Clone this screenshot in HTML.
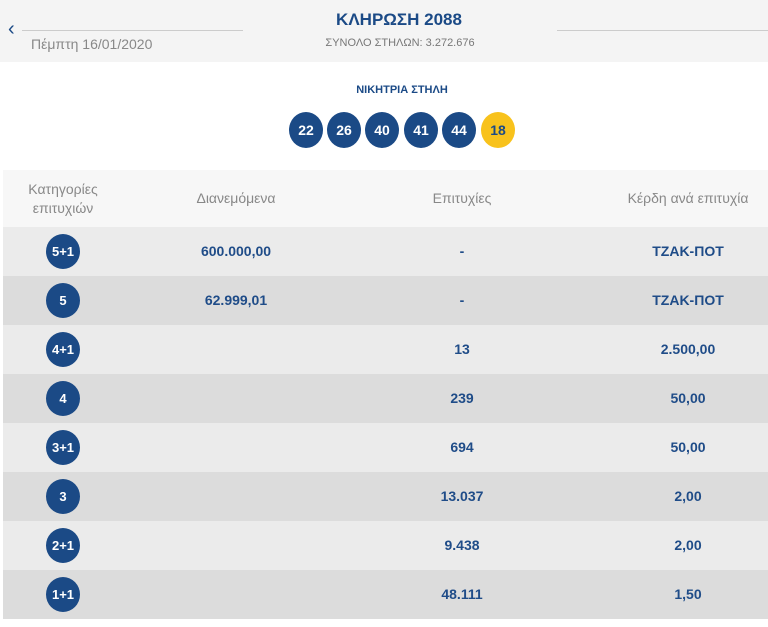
<!DOCTYPE html>
<html><head><meta charset="utf-8"><style>
body{margin:0;width:768px;height:627px;background:#fff;font-family:"Liberation Sans",sans-serif;position:relative;overflow:hidden}
.top{position:absolute;left:0;top:0;width:768px;height:62px;background:#f4f4f4}
.a{position:absolute;white-space:nowrap}
.c{transform:translateX(-50%)}
.ball{position:absolute;width:34px;height:36px;border-radius:50%;background:#1b4a86;color:#fff;font-weight:bold;font-size:14px;text-align:center;line-height:36px;top:112px}
.row{position:absolute;left:3px;width:765px;height:49px}
.cat{position:absolute;left:43px;top:7px;width:34px;height:35px;border-radius:50%;background:#1b4a86;color:#fff;font-weight:bold;font-size:13px;text-align:center;line-height:35px}
.v{position:absolute;top:16px;font-weight:bold;font-size:14px;color:#1f4c88;transform:translateX(-50%);white-space:nowrap}
.h{position:absolute;color:#888;font-size:14px;text-align:center;transform:translateX(-50%);white-space:nowrap}
</style></head><body>
<div class="top"></div>
<div class="a" style="left:8px;top:18px;color:#1b4a86;font-size:20px">‹</div>
<div class="a" style="left:22px;top:30px;width:221px;height:1px;background:#ccc"></div>
<div class="a" style="left:557px;top:30px;width:211px;height:1px;background:#ccc"></div>
<div class="a" style="left:31px;top:36px;color:#888;font-size:14px">Πέμπτη 16/01/2020</div>
<div class="a c" style="left:399px;top:10px;color:#1b4a86;font-weight:bold;font-size:17px">ΚΛΗΡΩΣΗ 2088</div>
<div class="a c" style="left:400px;top:37px;color:#777;font-size:11px">ΣΥΝΟΛΟ ΣΤΗΛΩΝ: 3.272.676</div>
<div class="a c" style="left:402px;top:84px;color:#1b4a86;font-weight:bold;font-size:11px">ΝΙΚΗΤΡΙΑ ΣΤΗΛΗ</div>
<div class="ball" style="left:289px">22</div>
<div class="ball" style="left:327px">26</div>
<div class="ball" style="left:365px">40</div>
<div class="ball" style="left:404px">41</div>
<div class="ball" style="left:442px">44</div>
<div class="ball" style="left:481px;background:#f8c21c;color:#1b4a86">18</div>
<div class="a" style="left:3px;top:170px;width:765px;height:57px;background:#f7f7f7"></div>
<div class="h" style="left:63px;top:180px;line-height:19px">Κατηγορίες<br>επιτυχιών</div>
<div class="h" style="left:236px;top:190px">Διανεμόμενα</div>
<div class="h" style="left:462px;top:190px">Επιτυχίες</div>
<div class="h" style="left:688px;top:190px">Κέρδη ανά επιτυχία</div>

<div class="row" style="top:227px;background:#ebebeb"><div class="cat">5+1</div><div class="v" style="left:233px">600.000,00</div><div class="v" style="left:459px">-</div><div class="v" style="left:685px">ΤΖΑΚ-ΠΟΤ</div></div>
<div class="row" style="top:276px;background:#dcdcdc"><div class="cat">5</div><div class="v" style="left:233px">62.999,01</div><div class="v" style="left:459px">-</div><div class="v" style="left:685px">ΤΖΑΚ-ΠΟΤ</div></div>
<div class="row" style="top:325px;background:#ebebeb"><div class="cat">4+1</div><div class="v" style="left:459px">13</div><div class="v" style="left:685px">2.500,00</div></div>
<div class="row" style="top:374px;background:#dcdcdc"><div class="cat">4</div><div class="v" style="left:459px">239</div><div class="v" style="left:685px">50,00</div></div>
<div class="row" style="top:423px;background:#ebebeb"><div class="cat">3+1</div><div class="v" style="left:459px">694</div><div class="v" style="left:685px">50,00</div></div>
<div class="row" style="top:472px;background:#dcdcdc"><div class="cat">3</div><div class="v" style="left:459px">13.037</div><div class="v" style="left:685px">2,00</div></div>
<div class="row" style="top:521px;background:#ebebeb"><div class="cat">2+1</div><div class="v" style="left:459px">9.438</div><div class="v" style="left:685px">2,00</div></div>
<div class="row" style="top:570px;background:#dcdcdc"><div class="cat">1+1</div><div class="v" style="left:459px">48.111</div><div class="v" style="left:685px">1,50</div></div>
</body></html>
